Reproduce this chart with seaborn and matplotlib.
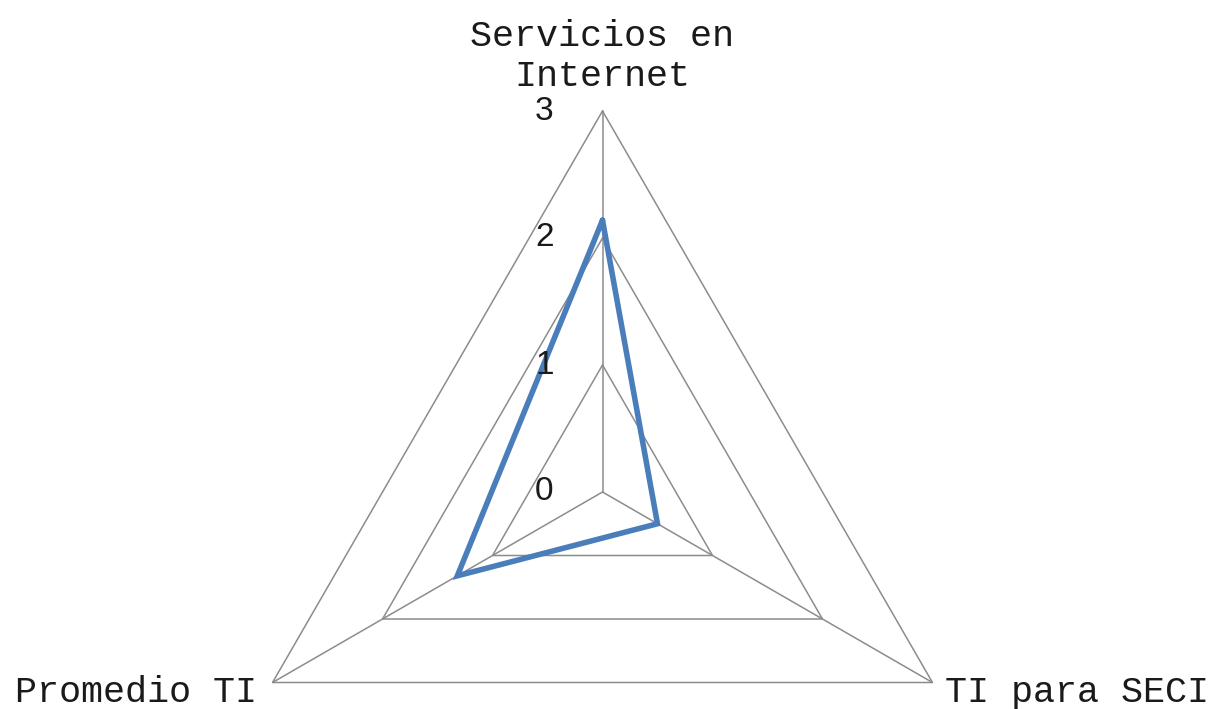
import numpy as np
import pandas as pd
import matplotlib
matplotlib.use("Agg")
import matplotlib.pyplot as plt
import seaborn as sns

# ---- data ----
categories = ["Servicios en\nInternet", "TI para SECI", "Promedio TI"]
values = [2.14, 0.50, 1.32]
levels = [0, 1, 2, 3]
tick_labels = ["0", "1", "2", "3"]

sns.set_theme(style="white")
plt.rcParams["font.family"] = ["Liberation Mono", "DejaVu Sans"]

W, H = 1217, 709
fig = plt.figure(figsize=(W / 100, H / 100), dpi=100)
cx, cy, R = 602.5, 217.0, 381.0
ax = fig.add_axes([(cx - R) / W, (cy - R) / H, 2 * R / W, 2 * R / H], projection="polar")

n = len(categories)
angles = np.pi / 2 - np.arange(n) * 2 * np.pi / n
closed_angles = np.append(angles, angles[0])

grid_color = "#8c8c8c"
# triangular grid
for lv in levels[1:]:
    ax.plot(closed_angles, [lv] * (n + 1), color=grid_color, lw=1.1, clip_on=False,
            solid_joinstyle="miter")
# spokes
for a in angles:
    ax.plot([a, a], [0, levels[-1]], color=grid_color, lw=1.1, clip_on=False)

# data
df = pd.DataFrame({"theta": closed_angles, "r": np.append(values, values[0])})
sns.lineplot(data=df, x="theta", y="r", sort=False, ax=ax, color="#4A7EBB", lw=4.0,
             estimator=None)
for ln in ax.lines[-1:]:
    ln.set_solid_joinstyle("miter")
    ln.set_clip_on(False)

ax.set_ylim(0, levels[-1])
ax.grid(False)
ax.spines["polar"].set_visible(False)
ax.set_xticks([])
ax.set_yticks([])
ax.set_xlabel("")
ax.set_ylabel("")
ax.patch.set_alpha(0)

text_color = "#1a1a1a"
# category labels
offsets = [((0, 25), "center"), ((13, -20), "left"), ((-16, -20), "right")]
for cat, a, (off, ha) in zip(categories, angles, offsets):
    ax.annotate(cat, xy=(a, levels[-1]), xytext=off, textcoords="offset pixels",
                ha=ha, va="baseline", fontsize=26.5, color=text_color,
                linespacing=1.2, annotation_clip=False)

# radial tick labels
for lv, lbl in zip(levels, tick_labels):
    ax.annotate(lbl, xy=(np.pi / 2, lv), xytext=(-58, 0), textcoords="offset pixels",
                ha="center", va="center", fontsize=24, family="Liberation Sans",
                color=text_color, annotation_clip=False)

fig.savefig("out.png", dpi=100, facecolor="white")
